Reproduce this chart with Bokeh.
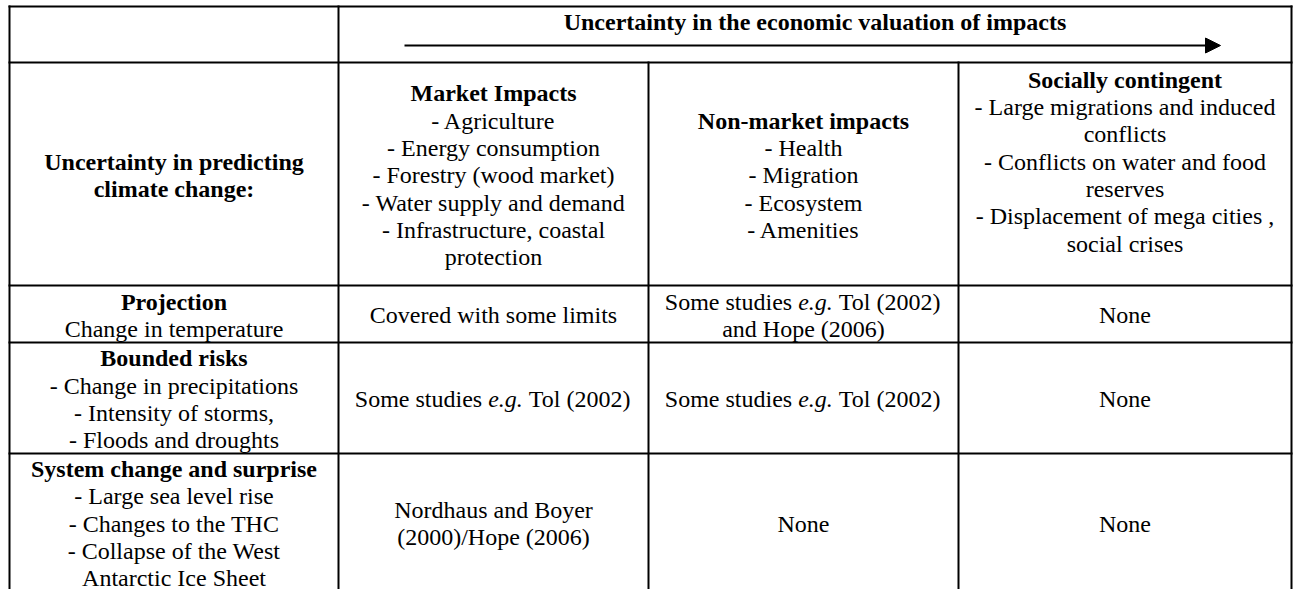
from bokeh.plotting import figure
from bokeh.models import Range1d, ColumnDataSource, Arrow, NormalHead
from bokeh.core.properties import value
from bokeh.embed import file_html
from bokeh.resources import INLINE

# ---------------- data (table texts) ----------------
header_title = "Uncertainty in the economic valuation of impacts"
corner_label = ["Uncertainty in predicting", "climate change:"]
impact_titles = ["Market Impacts", "Non-market impacts", "Socially contingent"]
impact_items = [
    ["- Agriculture", "- Energy consumption", "- Forestry (wood market)",
     "- Water supply and demand", "- Infrastructure, coastal", "protection"],
    ["- Health", "- Migration", "- Ecosystem", "- Amenities"],
    ["- Large migrations and induced", "conflicts", "- Conflicts on water and food",
     "reserves", "- Displacement of mega cities ,", "social crises", ""],
]
risk_titles = ["Projection", "Bounded risks", "System change and surprise"]
risk_items = [
    ["Change in temperature"],
    ["- Change in precipitations", "- Intensity of storms,", "- Floods and droughts"],
    ["- Large sea level rise", "- Changes to the THC", "- Collapse of the West",
     "Antarctic Ice Sheet"],
]
# *...* marks italic text
cell_texts = [
    [["Covered with some limits"], ["Some studies *e.g.* Tol (2002)", "and Hope (2006)"], ["None"]],
    [["Some studies *e.g.* Tol (2002)"], ["Some studies *e.g.* Tol (2002)"], ["None"]],
    [["Nordhaus and Boyer", "(2000)/Hope (2006)"], ["None"], ["None"]],
]

# ---------------- layout ----------------
col_edges = [9, 338, 648, 958, 1291]
row_edges = [6, 62, 285, 342, 453, 590.4]
LINE = 27.3
BASE = 8.3
DY = -7.0      # renderer baseline correction
FS = 24
FONT = "Liberation Serif"

# Times metrics (units per 1000 em) for italic-segment placement
W_REG = {" ": 250, "S": 556, "o": 500, "m": 778, "e": 444, "s": 389, "t": 278, "u": 500,
         "d": 500, "i": 278, "T": 611, "l": 278, "(": 333, ")": 333, "0": 500, "2": 500,
         ".": 250, "g": 500}
W_ITA = {" ": 250, "e": 444, ".": 250, "g": 500}


def seg_width(s, italic):
    tbl = W_ITA if italic else W_REG
    return sum(tbl.get(c, 500) for c in s) * FS / 1000.0


recs = {}


def add(style, align, x, y, text, xo=0.0):
    d = recs.setdefault((style, align), dict(x=[], y=[], text=[], xo=[]))
    d["x"].append(x)
    d["y"].append(y + DY)
    d["text"].append(text)
    d["xo"].append(xo)


def add_block(cx, top, bottom, lines):
    n = len(lines)
    center = (top + bottom) / 2.0
    for k, (txt, style) in enumerate(lines):
        y = center + BASE + (k - (n - 1) / 2.0) * LINE
        if not txt:
            continue
        if "*" in txt:
            parts = txt.split("*")
            total = sum(seg_width(s, i % 2 == 1) for i, s in enumerate(parts))
            pos = -total / 2.0
            for i, s in enumerate(parts):
                ital = i % 2 == 1
                lead = len(s) - len(s.lstrip(" "))
                stripped = s.strip(" ")
                if stripped:
                    add("italic" if ital else style, "left", cx, y, stripped,
                        pos + seg_width(" " * lead, ital))
                pos += seg_width(s, ital)
        else:
            add(style, "center", cx, y, txt)


col_centers = [(col_edges[i] + col_edges[i + 1]) / 2.0 for i in range(4)]

# header title (row 0)
add("bold", "center", (col_edges[1] + col_edges[4]) / 2.0, 28, header_title)

# header row (row 1): corner + impact categories
add_block(col_centers[0], row_edges[1], row_edges[2], [(t, "bold") for t in corner_label])
for j in range(3):
    lines = [(impact_titles[j], "bold")] + [(t, "normal") for t in impact_items[j]]
    add_block(col_centers[j + 1], row_edges[1], row_edges[2], lines)

# body rows
for r in range(3):
    top, bot = row_edges[r + 2], row_edges[r + 3]
    lines = [(risk_titles[r], "bold")] + [(t, "normal") for t in risk_items[r]]
    add_block(col_centers[0], top, bot, lines)
    for j in range(3):
        add_block(col_centers[j + 1], top, bot, [(t, "normal") for t in cell_texts[r][j]])

# ---------------- figure ----------------
p = figure(width=1295, height=589, x_range=Range1d(0, 1295), y_range=Range1d(589, 0),
           output_backend="svg", toolbar_location=None, min_border=0)
p.axis.visible = False
p.xgrid.visible = False
p.ygrid.visible = False
p.outline_line_color = None
p.background_fill_color = "white"
p.border_fill_color = "white"

# grid lines
x0, y0, x1, y1 = [], [], [], []
for y in row_edges[:5]:
    x0.append(col_edges[0]); x1.append(col_edges[4]); y0.append(y); y1.append(y)
for i, x in enumerate(col_edges):
    start = row_edges[1] if i in (2, 3) else row_edges[0]
    x0.append(x); x1.append(x); y0.append(start); y1.append(row_edges[5])
p.segment(x0=x0, y0=y0, x1=x1, y1=y1, line_color="black", line_width=2, line_cap="square")

# arrow in header
p.add_layout(Arrow(x_start=404, y_start=45, x_end=1220, y_end=45, line_color="black",
                   line_width=2,
                   end=NormalHead(size=15, fill_color="black", line_color="black", line_width=1)))

for (style, align), d in recs.items():
    src = ColumnDataSource(d)
    p.text(x="x", y="y", text="text", x_offset="xo", source=src,
           text_font=value(FONT), text_font_size=f"{FS}px", text_font_style=style,
           text_align=align, text_baseline="alphabetic", text_color="black")

open("out.html", "w").write(file_html(p, INLINE))
